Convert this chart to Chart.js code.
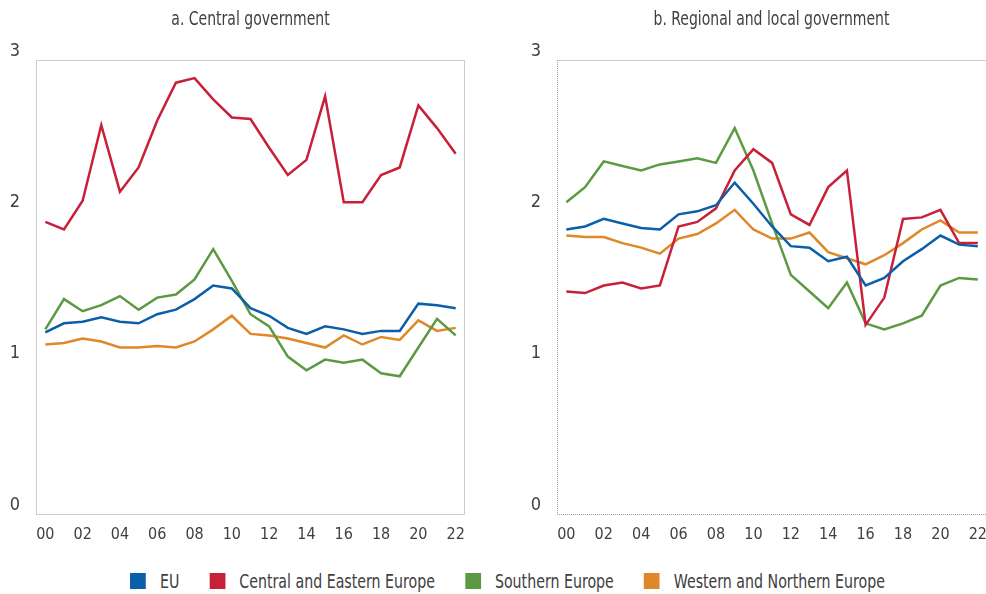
<!DOCTYPE html>
<html>
<head>
<meta charset="utf-8">
<script src="https://cdn.jsdelivr.net/npm/chart.js@4/dist/chart.umd.min.js"></script>
<style>
  body { margin: 0; background: #fff; width: 986px; height: 594px; overflow: hidden; position: relative; }
  .panel { position: absolute; top: 0; height: 560px; }
  #left { left: 0; width: 493px; }
  #right { left: 520px; width: 470px; }
  .title {
    position: absolute; top: 7px; text-align: center; white-space: nowrap;
    font-family: 'DejaVu Sans Condensed', 'DejaVu Sans', sans-serif;
    font-size: 19px; color: #404040; transform: scaleX(0.82); transform-origin: center;
  }
  #titleA { left: 36px; width: 429px; }
  #titleB { left: 557px; width: 429px; }
  #legend {
    position: absolute; left: 130px; top: 570px;
    display: flex; align-items: center; white-space: nowrap;
    font-family: 'DejaVu Sans Condensed', 'DejaVu Sans', sans-serif;
    font-size: 19px; color: #404040; transform-origin: left center;
  }
  #legend .item { display: flex; align-items: center; }
  #legend .sw { display: inline-block; }
</style>
</head>
<body>
<div class="panel" id="left"><canvas id="centralChart"></canvas></div>
<div class="panel" id="right"><canvas id="regionalChart"></canvas></div>
<div class="title" id="titleA"></div>
<div class="title" id="titleB"></div>
<div id="legend"></div>

<script>
const years = ['00','01','02','03','04','05','06','07','08','09','10','11','12','13','14','15','16','17','18','19','20','21','22'];
const seriesNames = ['EU', 'Central and Eastern Europe', 'Southern Europe', 'Western and Northern Europe'];
const seriesColors = ['#0b5fa8', '#c9203a', '#5b9a42', '#df8827'];
const panelTitles = ['a. Central government', 'b. Regional and local government'];
const yTicks = [0, 1, 2, 3];

// a. Central government
const centralEU   = [1.20, 1.26, 1.27, 1.30, 1.27, 1.26, 1.32, 1.35, 1.42, 1.51, 1.49, 1.36, 1.31, 1.23, 1.19, 1.24, 1.22, 1.19, 1.21, 1.21, 1.39, 1.38, 1.36];
const centralCEE  = [1.93, 1.88, 2.07, 2.57, 2.13, 2.29, 2.60, 2.85, 2.88, 2.74, 2.62, 2.61, 2.42, 2.24, 2.34, 2.76, 2.06, 2.06, 2.24, 2.29, 2.70, 2.55, 2.38];
const centralSouth = [1.22, 1.42, 1.34, 1.38, 1.44, 1.35, 1.43, 1.45, 1.55, 1.75, 1.54, 1.32, 1.24, 1.04, 0.95, 1.02, 1.00, 1.02, 0.93, 0.91, 1.10, 1.29, 1.18];
const centralWest = [1.12, 1.13, 1.16, 1.14, 1.10, 1.10, 1.11, 1.10, 1.14, 1.22, 1.31, 1.19, 1.18, 1.16, 1.13, 1.10, 1.18, 1.12, 1.17, 1.15, 1.28, 1.21, 1.23];

// b. Regional and local government
const regionalEU   = [1.88, 1.90, 1.95, 1.92, 1.89, 1.88, 1.98, 2.00, 2.04, 2.19, 2.05, 1.90, 1.77, 1.76, 1.67, 1.70, 1.51, 1.56, 1.67, 1.75, 1.84, 1.78, 1.77];
const regionalCEE  = [1.47, 1.46, 1.51, 1.53, 1.49, 1.51, 1.90, 1.93, 2.02, 2.27, 2.41, 2.32, 1.98, 1.91, 2.16, 2.27, 1.25, 1.43, 1.95, 1.96, 2.01, 1.79, 1.79];
const regionalSouth = [2.06, 2.16, 2.33, 2.30, 2.27, 2.31, 2.33, 2.35, 2.32, 2.55, 2.27, 1.92, 1.58, 1.47, 1.36, 1.53, 1.26, 1.22, 1.26, 1.31, 1.51, 1.56, 1.55];
const regionalWest = [1.84, 1.83, 1.83, 1.79, 1.76, 1.72, 1.82, 1.85, 1.92, 2.01, 1.88, 1.82, 1.82, 1.86, 1.73, 1.69, 1.65, 1.71, 1.79, 1.88, 1.94, 1.86, 1.86];

const FONT = "'DejaVu Sans Condensed', 'DejaVu Sans', sans-serif";
const TEXT = '#404040';

// dotted frame round the plot area
const frame = {
  id: 'frame',
  afterDraw(chart) {
    const { ctx, chartArea: a } = chart;
    ctx.save();
    ctx.strokeStyle = '#9a9a9a';
    ctx.lineWidth = 1;
    ctx.setLineDash([1, 1]);
    ctx.strokeRect(a.left + 0.5, a.top + 0.5, a.right - a.left - 1, a.bottom - a.top);
    ctx.restore();
  },
};

function makeDatasets(values) {
  return values.map((v, i) => ({
    label: seriesNames[i],
    data: v,
    borderColor: seriesColors[i],
    backgroundColor: seriesColors[i],
    borderWidth: 2.5,
    pointRadius: 0,
    tension: 0,
  }));
}

function panelOptions(yWidth, padRight) {
  return {
    responsive: true,
    maintainAspectRatio: false,
    animation: false,
    layout: { autoPadding: false, padding: { left: 0, right: padRight, top: 60, bottom: 0 } },
    plugins: {
      legend: { display: false },
      tooltip: { enabled: false },
    },
    scales: {
      x: {
        type: 'category',
        offset: true,
        grid: { display: false },
        border: { display: false },
        ticks: {
          color: TEXT,
          autoSkip: false,
          maxRotation: 0,
          font: { family: FONT, size: 16 },
          callback: function (v, i) { return i % 2 === 0 ? this.getLabelForValue(v) : ''; },
        },
        afterFit: (s) => { s.height = 46; },
      },
      y: {
        min: yTicks[0],
        max: yTicks[yTicks.length - 1],
        grid: { display: false },
        border: { display: false },
        afterBuildTicks: (s) => { s.ticks = yTicks.map((v) => ({ value: v })); },
        ticks: {
          color: TEXT,
          padding: 8,
          labelOffset: -9,
          font: { family: FONT, size: 18 },
        },
        afterFit: (s) => { s.width = yWidth; },
      },
    },
  };
}

new Chart(document.getElementById('centralChart'), {
  type: 'line',
  data: { labels: years, datasets: makeDatasets([centralEU, centralCEE, centralSouth, centralWest]) },
  options: panelOptions(36, 28),
  plugins: [frame],
});

new Chart(document.getElementById('regionalChart'), {
  type: 'line',
  data: { labels: years, datasets: makeDatasets([regionalEU, regionalCEE, regionalSouth, regionalWest]) },
  options: panelOptions(37, 0),
  plugins: [frame],
});

document.getElementById('titleA').textContent = panelTitles[0];
document.getElementById('titleB').textContent = panelTitles[1];

// legend: condensed look by squeezing the whole row horizontally
const legend = document.getElementById('legend');
const squeeze = 0.83;
seriesNames.forEach((name, i) => {
  const item = document.createElement('div');
  item.className = 'item';
  item.style.marginRight = (30 / squeeze) + 'px';
  const sw = document.createElement('span');
  sw.className = 'sw';
  sw.style.width = (16 / squeeze) + 'px';
  sw.style.height = '16px';
  sw.style.marginRight = (14 / squeeze) + 'px';
  sw.style.background = seriesColors[i];
  const txt = document.createElement('span');
  txt.textContent = name;
  item.appendChild(sw);
  item.appendChild(txt);
  legend.appendChild(item);
});
legend.style.transform = 'scaleX(' + squeeze + ')';
</script>
</body>
</html>
